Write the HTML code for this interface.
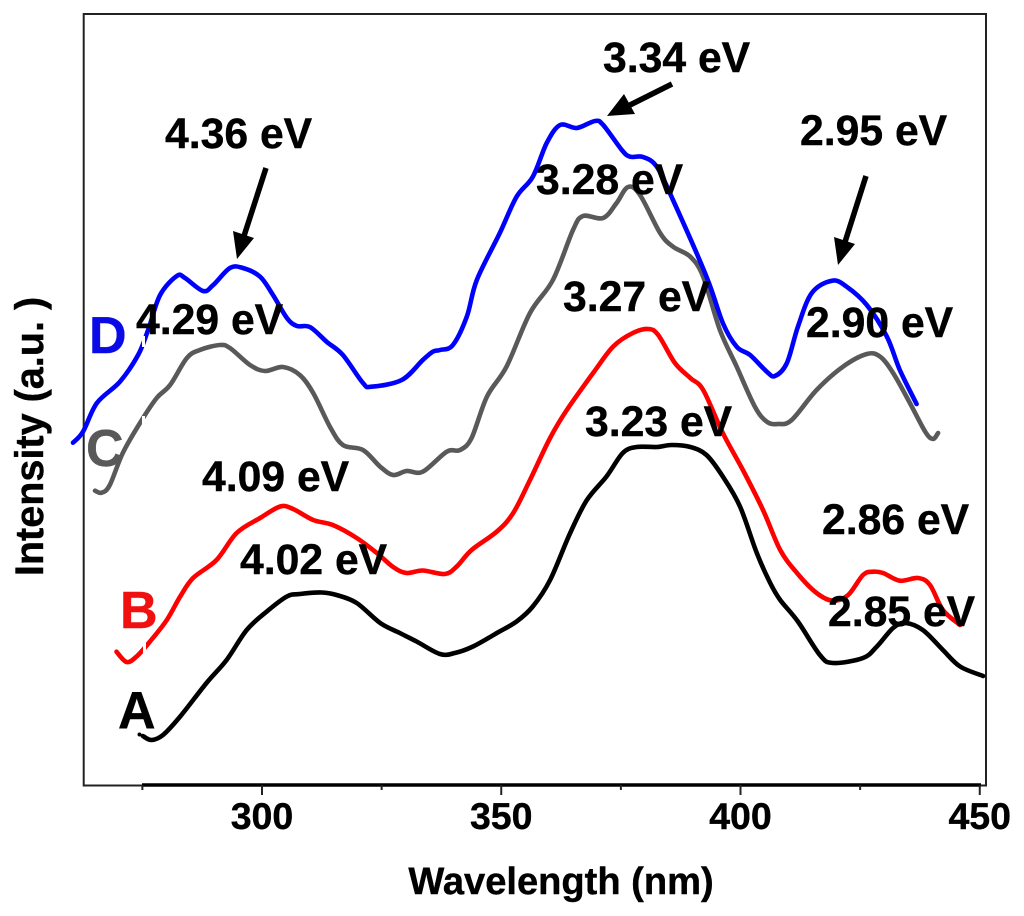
<!DOCTYPE html>
<html lang="en">
<head>
<meta charset="utf-8">
<title>Spectra chart</title>
<style>
html,body{margin:0;padding:0;background:#fff;}
svg{display:block;}
text{font-family:"Liberation Sans",Arial,sans-serif;font-weight:bold;fill:#000;stroke:#000;stroke-width:0.4px;}
.tick{font-size:37.5px;text-anchor:middle;}
.ev{font-size:42.7px;}
.letter{font-size:52px;}
</style>
</head>
<body>
<svg id="chart" width="1024" height="916" viewBox="0 0 1024 916" xmlns="http://www.w3.org/2000/svg">
  <rect x="0" y="0" width="1024" height="916" fill="#fff"/>
  <rect x="83.7" y="14" width="902.3" height="771.5" fill="none" stroke="#222" stroke-width="2"/>
  <line x1="142" y1="785" x2="981" y2="785" stroke="#000" stroke-width="3.4"/>
  <g id="ticks"></g>
  <g id="series"></g>

  <rect x="142" y="336" width="3" height="11" fill="#fff"/>
  <rect x="142" y="416" width="3" height="11" fill="#fff"/>
  <rect x="143" y="642" width="3" height="11" fill="#fff"/>
  <circle cx="139.5" cy="734.5" r="2" fill="#000"/>

  <text x="561" y="894" style="font-size:38.1px" text-anchor="middle">Wavelength (nm)</text>
  <text transform="translate(43,436.5) rotate(-90)" style="font-size:39.6px" text-anchor="middle">Intensity (a.u. )</text>

  <text class="letter" x="89" y="353" style="fill:#0a0ae6;stroke:#0a0ae6">D</text>
  <text class="letter" x="86" y="466" style="fill:#595959;stroke:#595959">C</text>
  <text class="letter" x="120" y="628" style="fill:#f01010;stroke:#f01010">B</text>
  <text class="letter" x="118" y="728">A</text>

  <text class="ev" x="165" y="148">4.36 eV</text>
  <text class="ev" x="603" y="72">3.34 eV</text>
  <text class="ev" x="800" y="145">2.95 eV</text>
  <text class="ev" x="536" y="194">3.28 eV</text>
  <text class="ev" x="136" y="334">4.29 eV</text>
  <text class="ev" x="806" y="337">2.90 eV</text>
  <text class="ev" x="563" y="311">3.27 eV</text>
  <text class="ev" x="202" y="491">4.09 eV</text>
  <text class="ev" x="585" y="436">3.23 eV</text>
  <text class="ev" x="822" y="534">2.86 eV</text>
  <text class="ev" x="240" y="574">4.02 eV</text>
  <text class="ev" x="828" y="626">2.85 eV</text>

  <g>
    <line x1="266" y1="168" x2="244" y2="236" stroke="#000" stroke-width="5.5"/>
    <polygon points="237,259 233,231 254,238" fill="#000"/>
  </g>
  <g>
    <line x1="672" y1="84" x2="628" y2="106" stroke="#000" stroke-width="5.5"/>
    <polygon points="607,116 624,94 635,114" fill="#000"/>
  </g>
  <g>
    <line x1="866" y1="176" x2="845" y2="242" stroke="#000" stroke-width="5.5"/>
    <polygon points="838,265 834,237 855,244" fill="#000"/>
  </g>
</svg>
<script>
const majorTicks = [300, 350, 400, 450];
const minorTicks = [275, 325, 375, 425];
const yMax = 771.5;

const wavelengthA = [275.1,276.9,279.3,282.9,288.4,292.6,296.8,301,305.2,307.9,312.5,315.6,319.8,324.7,328.8,332.3,337.2,340.3,344.1,349.1,353.2,356.6,360.2,364.4,367.9,372,375.4,378.3,382.5,385.6,389.5,392.9,396.3,399.9,403.4,406.2,408.3,412,416.6,419.3,425.6,428.5,431.9,434.4,438.1,442.3,445.9,450.7];
const intensityA = [49.5,45.5,50.5,69,102.5,125.5,155.5,174,189,191.5,193,190.5,182.5,162.5,152.5,144,131.5,132.5,139,152.5,164,179,205.5,252.5,285.5,309,332.5,338.5,338.5,340.5,338.5,330.5,309,279,232.5,202.5,185.5,164,130.5,122.5,127.5,139,157.5,162.5,155.5,135.5,119,109.5];

const wavelengthB = [269.6,271.7,273.8,276.6,280.1,282.9,285.6,290.5,294.7,299.6,303.8,306.5,310.7,314.8,319.8,324,327.4,330.2,333.6,338.2,340.7,343.8,349.1,352.5,356,360.2,363.7,369.2,373.4,377.5,380.7,382.8,386.3,389.5,392.2,396.3,400.5,404.7,408.3,411.8,415.9,419.3,422.5,425.6,427.7,429.8,433.3,437.1,439.6,442.3,445.9];
const intensityB = [133.8,123.5,129,144,165.5,189,207.5,225.5,252.5,267.5,279,276.5,265.5,260.5,247.5,232.5,218.5,212.5,215,211.5,219,235.5,254,272.5,305.5,347.5,375.5,412.5,439,452.5,456.5,450.5,422.5,407.5,395.5,352.5,315.5,275.5,235.5,212.5,192.5,184.8,190.5,210.5,213.8,212.5,204.8,207.5,200.5,175.5,160.5];

const wavelengthC = [265.1,266.5,268.2,270.9,274.5,278,280.8,284.3,287,291.2,293.3,297.5,300.6,304.4,307.9,310.7,314.2,316.9,321.1,324.7,327.4,330.2,333.6,338.6,341.4,343.8,347,351.1,356,360.8,365,367.1,371.3,374.1,376.5,379,383.2,385.9,389.5,392.2,395.7,399.2,403,405.5,407.8,410.7,415.9,421.4,426.4,429.2,431.9,435.4,438.6,440.2,441.3];
const intensityC = [294.8,292.8,300.5,332.5,362.5,387.5,400.5,427.5,435.5,440.5,437.5,420.5,414.5,418.5,410.5,392.5,358.8,340.5,335.5,318.8,310.5,314.5,313.8,333.8,335.5,347.5,388.8,418.8,472.5,505.5,555.5,569.5,567.5,582.5,598.5,590.5,552.5,538.8,528.8,508.8,455.5,418.8,378.8,363.8,361.5,365.5,395.5,418.8,431.5,428.8,412.5,382.5,353.8,346.5,352.5];

const wavelengthD = [260.5,262.6,265.5,270.3,274.1,276.2,278.7,282.2,283.9,287.7,289.8,293.3,296,299.6,302.3,305.2,307.3,310,313.5,316.9,321.1,322.9,329.2,333.6,335.7,337.2,339.9,342.8,344.9,349.7,353.2,356.6,359.5,362.3,365.8,369.6,371.3,375.2,376.9,379.6,382.5,385.9,392.9,396.3,399.2,402,405.5,407.2,409.7,412,414.9,419.1,422.2,426.4,430.6,433.3,436.8];
const intensityD = [342.8,353.8,382.5,403.8,430.5,455.5,490.5,509.5,507.5,494.5,500.5,517.5,517.5,508.8,490.5,467.5,459.5,458.5,443.8,430.5,402.5,398.8,405.5,425.5,433.8,435.5,440.5,468.8,505.5,552.5,588.8,608.8,642.5,660.5,657.5,664.5,660.5,635.5,628.8,628.5,618.8,585.5,508.8,462.5,438.8,430.5,413.8,409.5,422.5,458.8,492.5,504.8,498.8,480.5,448.8,415.5,381.5];

const SVG_NS = 'http://www.w3.org/2000/svg';
const xScale = function (w) { return 262 + 4.785 * (w - 300); };
const yScale = function (v) { return 785.5 - (v / yMax) * 771.5; };

function smoothPath(xs, ys) {
  const p = xs.map(function (x, i) { return [xScale(x), yScale(ys[i])]; });
  let d = 'M' + p[0][0].toFixed(1) + ' ' + p[0][1].toFixed(1);
  for (let i = 0; i < p.length - 1; i++) {
    const a = p[Math.max(i - 1, 0)], b = p[i], c = p[i + 1], e = p[Math.min(i + 2, p.length - 1)];
    const c1x = b[0] + (c[0] - a[0]) / 6, c1y = b[1] + (c[1] - a[1]) / 6;
    const c2x = c[0] - (e[0] - b[0]) / 6, c2y = c[1] - (e[1] - b[1]) / 6;
    d += 'C' + c1x.toFixed(1) + ' ' + c1y.toFixed(1) + ' ' + c2x.toFixed(1) + ' ' + c2y.toFixed(1) + ' ' + c[0].toFixed(1) + ' ' + c[1].toFixed(1);
  }
  return d;
}

const seriesGroup = document.getElementById('series');

function addLine(xs, ys, color, name) {
  const el = document.createElementNS(SVG_NS, 'path');
  el.setAttribute('d', smoothPath(xs, ys));
  el.setAttribute('fill', 'none');
  el.setAttribute('stroke', color);
  el.setAttribute('stroke-width', '4.6');
  el.setAttribute('stroke-linecap', 'round');
  el.setAttribute('stroke-linejoin', 'round');
  
  
  seriesGroup.appendChild(el);
}

addLine(wavelengthA, intensityA, '#000000', 'series-a-line');
addLine(wavelengthB, intensityB, '#ff0000', 'series-b-line');
addLine(wavelengthC, intensityC, '#595959', 'series-c-line');
addLine(wavelengthD, intensityD, '#0000ff', 'series-d-line');

const tickGroup = document.getElementById('ticks');

majorTicks.forEach(function (t) {
  const mark = document.createElementNS(SVG_NS, 'line');
  mark.setAttribute('x1', xScale(t));
  mark.setAttribute('x2', xScale(t));
  mark.setAttribute('y1', 785);
  mark.setAttribute('y2', 795);
  mark.setAttribute('stroke', '#222');
  mark.setAttribute('stroke-width', '2');
  
  
  tickGroup.appendChild(mark);
  const label = document.createElementNS(SVG_NS, 'text');
  label.setAttribute('class', 'tick');
  label.setAttribute('x', xScale(t));
  label.setAttribute('y', 829);
  label.textContent = String(t);
  
  
  tickGroup.appendChild(label);
});

minorTicks.forEach(function (t) {
  const mark = document.createElementNS(SVG_NS, 'line');
  mark.setAttribute('x1', xScale(t));
  mark.setAttribute('x2', xScale(t));
  mark.setAttribute('y1', 785);
  mark.setAttribute('y2', 790);
  mark.setAttribute('stroke', '#222');
  mark.setAttribute('stroke-width', '2');
  
  
  tickGroup.appendChild(mark);
});
</script>
</body>
</html>
